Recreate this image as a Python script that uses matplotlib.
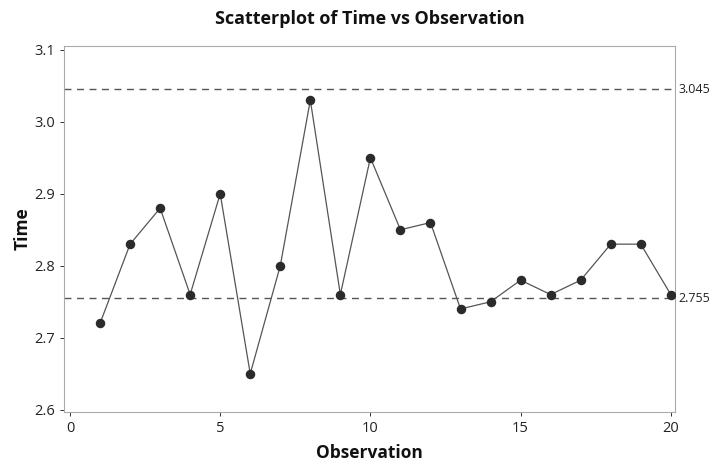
import matplotlib
matplotlib.use("Agg")
import matplotlib.pyplot as plt

observation = list(range(1, 21))
time = [2.72, 2.83, 2.88, 2.76, 2.90, 2.65, 2.80, 3.03, 2.76, 2.95,
        2.85, 2.86, 2.74, 2.75, 2.78, 2.76, 2.78, 2.83, 2.83, 2.76]
ref_lines = [3.045, 2.755]
ref_labels = ["3.045", "2.755"]
xticks = [0, 5, 10, 15, 20]
yticks = [2.6, 2.7, 2.8, 2.9, 3.0, 3.1]

fig = plt.figure(figsize=(7.15, 4.66), dpi=100)
ax = fig.add_axes([0.0895, 0.116, 0.855, 0.785])

ax.plot(observation, time, color="#555555", linewidth=0.9, zorder=2)
ax.scatter(observation, time, s=34, color="#2b2b2b", zorder=3)

for v, lab in zip(ref_lines, ref_labels):
    ax.axhline(v, color="#555555", linestyle=(0, (5, 4)), linewidth=1.0, zorder=1)
    ax.text(1.005, v, lab, transform=ax.get_yaxis_transform(), va="center", ha="left",
            fontsize=9, color="#222222", fontfamily="Open Sans")

ax.set_xlim(-0.2, 20.15)
ax.set_ylim(2.597, 3.105)
ax.set_xticks(xticks)
ax.set_yticks(yticks)
ax.set_yticklabels([f"{t:.1f}" for t in yticks])
for s in ax.spines.values():
    s.set_color("#aaaaaa")
    s.set_linewidth(0.8)
ax.tick_params(colors="#333333", labelsize=10.5, length=3, width=0.7)
for lbl in ax.get_xticklabels() + ax.get_yticklabels():
    lbl.set_fontfamily("Open Sans")
    lbl.set_color("#222222")

ax.set_title("Scatterplot of Time vs Observation", fontsize=13, fontweight="bold",
             fontfamily="Open Sans", pad=16, color="#111111")
ax.set_xlabel("Observation", fontsize=12.5, fontweight="bold", fontfamily="Open Sans", color="#111111", labelpad=6)
ax.set_ylabel("Time", fontsize=12.5, fontweight="bold", fontfamily="Open Sans", color="#111111", labelpad=2)

fig.savefig("out.png", dpi=100)
